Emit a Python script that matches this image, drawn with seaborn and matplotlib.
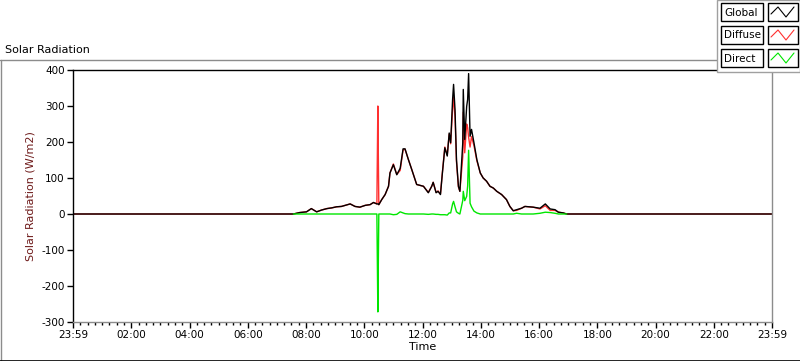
import numpy as np
import pandas as pd
import seaborn as sns
import matplotlib.pyplot as plt
from matplotlib.patches import Rectangle
from matplotlib.lines import Line2D
from matplotlib.ticker import MultipleLocator

# sample times (HH:MM) and readings in W/m2
times = ["00:00", "07:34", "07:47", "08:01", "08:11", "08:22", "08:32", "08:43", "08:53",
         "09:03", "09:13", "09:31", "09:41", "09:51", "10:02", "10:12", "10:19", "10:26",
         "10:28", "10:29", "10:30", "10:36", "10:43", "10:50", "10:53", "11:00", "11:07",
         "11:14", "11:20", "11:24", "11:31", "11:38", "11:48", "12:02", "12:12", "12:19",
         "12:22", "12:28", "12:32", "12:37", "12:41", "12:46", "12:51", "12:55", "12:58",
         "13:02", "13:04", "13:07", "13:10", "13:14", "13:17", "13:23", "13:24", "13:27",
         "13:31", "13:33", "13:35", "13:38", "13:41", "13:46", "13:52", "13:59", "14:05",
         "14:12", "14:19", "14:26", "14:33", "14:43", "14:53", "15:00", "15:07", "15:14",
         "15:24", "15:31", "15:48", "16:02", "16:13", "16:23", "16:33", "16:40", "16:50",
         "16:57", "24:00"]
global_rad = [0, 0, 4, 6, 15, 6, 11, 15, 17,
              20, 21, 28, 21, 19, 24, 26, 32, 28,
              28, 27, 26, 40, 54, 77, 114, 137, 109,
              127, 181, 181, 151, 123, 82, 77, 59, 77,
              88, 59, 63, 54, 114, 184, 161, 225, 198,
              318, 360, 290, 151, 77, 63, 198, 346, 207,
              299, 318, 390, 216, 235, 198, 151, 114, 100,
              91, 77, 72, 63, 54, 40, 21, 9, 12,
              16, 21, 19, 16, 28, 14, 12, 5, 3,
              0, 0]
diffuse_rad = [0, 0, 4, 6, 15, 6, 11, 15, 17,
               20, 21, 28, 21, 19, 24, 26, 32, 28,
               300, 162, 26, 40, 54, 77, 114, 139, 110,
               121, 178, 180, 151, 123, 82, 77, 60, 77,
               88, 60, 64, 56, 116, 186, 164, 222, 195,
               290, 325, 270, 145, 75, 63, 160, 283, 170,
               250, 240, 213, 186, 215, 190, 148, 114, 100,
               91, 77, 72, 63, 54, 40, 21, 9, 10,
               16, 21, 19, 14, 23, 10, 10, 5, 3,
               0, 0]
direct_rad = [None, 0, 0, 0, 0, 0, 0, 0, 0,
              0, 0, 0, 0, 0, 0, 0, 0, 0,
              -272, -135, 0, 0, 0, 0, 0, -2, -1,
              6, 3, 1, 0, 0, 0, 0, -1, 0,
              0, -1, -1, -2, -2, -2, -3, 3, 3,
              28, 35, 20, 6, 2, 0, 38, 63, 37,
              49, 78, 177, 30, 20, 8, 3, 0, 0,
              0, 0, 0, 0, 0, 0, 0, 0, 2,
              0, 0, 0, 2, 5, 4, 2, 0, 0,
              0, None]

series_names = ["Global", "Diffuse", "Direct"]
series_colors = ["#000000", "#ff3030", "#00e600"]
draw_order = ["Diffuse", "Global", "Direct"]
x_tick_labels = ["23:59", "02:00", "04:00", "06:00", "08:00", "10:00", "12:00",
                 "14:00", "16:00", "18:00", "20:00", "22:00", "23:59"]


def to_hours(s):
    h, m = s.split(":")
    return int(h) + int(m) / 60.0


hours = [to_hours(t) for t in times]
df = pd.DataFrame({"hours": hours, "Global": global_rad,
                   "Diffuse": diffuse_rad, "Direct": direct_rad})
df = df.astype(float)

sns.set_style("ticks")
plt.rcParams["font.family"] = ["DejaVu Sans"]
plt.rcParams["axes.unicode_minus"] = False

W, H = 800, 361
fig = plt.figure(figsize=(W / 100, H / 100), dpi=100)
ax = fig.add_axes([73 / W, 1 - 322 / H, (772 - 73) / W, (322 - 70) / H])

color_map = dict(zip(series_names, series_colors))
for name in draw_order:
    sub = df[["hours", name]].dropna()
    sns.lineplot(data=sub, x="hours", y=name, color=color_map[name], lw=1.0,
                 estimator=None, sort=False, ax=ax)

ax.set_xlim(0, 24)
ax.set_ylim(-300, 400)
ax.set_xticks(np.arange(0, 25, 2))
ax.set_xticklabels(x_tick_labels)
ax.xaxis.set_minor_locator(MultipleLocator(0.25))
ax.yaxis.set_major_locator(MultipleLocator(100))
ax.tick_params(axis="both", which="major", direction="out", length=4, width=1,
               color="black", labelcolor="black", labelsize=7.5, pad=2)
ax.tick_params(axis="x", which="minor", direction="out", length=2.5, width=1, color="black")

for side in ["left", "top"]:
    ax.spines[side].set_visible(True)
    ax.spines[side].set_color("black")
    ax.spines[side].set_linewidth(1)
for side in ["right", "bottom"]:
    ax.spines[side].set_visible(True)
    ax.spines[side].set_color("#8c8c8c")
    ax.spines[side].set_linewidth(1)

ax.set_xlabel("Time", fontsize=8, labelpad=1, color="black")
ax.set_ylabel("Solar Radiation (W/m2)", fontsize=8, color="#6e1a1a", labelpad=4)

# panel title and frame lines
fig.text(5 / W, 1 - 50 / H, "Solar Radiation", fontsize=8, ha="left", va="center", color="black")
fig.add_artist(Line2D([0, 717 / W], [1 - 60 / H, 1 - 60 / H], color="#8c8c8c", lw=1))
fig.add_artist(Line2D([0.5 / W, 0.5 / W], [0, 1 - 60 / H], color="#8c8c8c", lw=1))
fig.add_artist(Line2D([0, 1], [0.5 / H, 0.5 / H], color="black", lw=1.2))

# legend panel at top right
fig.add_artist(Rectangle((717 / W, 1 - 72 / H), 83 / W, 72 / H, transform=fig.transFigure,
                         facecolor="white", edgecolor="#a0a0a0", lw=1, zorder=5))
for i, (name, col) in enumerate(zip(series_names, series_colors)):
    top = 3 + i * 23
    fig.add_artist(Rectangle((721 / W, 1 - (top + 18) / H), 42 / W, 18 / H,
                             transform=fig.transFigure, facecolor="white",
                             edgecolor="black", lw=1, zorder=6))
    fig.text(724 / W, 1 - (top + 9.5) / H, name, fontsize=7.5, ha="left", va="center",
             color="black", zorder=7)
    fig.add_artist(Rectangle((768 / W, 1 - (top + 18) / H), 30 / W, 18 / H,
                             transform=fig.transFigure, facecolor="white",
                             edgecolor="black", lw=1, zorder=6))
    zx = np.array([771, 778, 786, 794]) / W
    zy = 1 - (top + np.array([11, 4, 14, 4])) / H
    fig.add_artist(Line2D(zx, zy, color=col, lw=0.8, zorder=7))

fig.savefig("out.png", dpi=100)
